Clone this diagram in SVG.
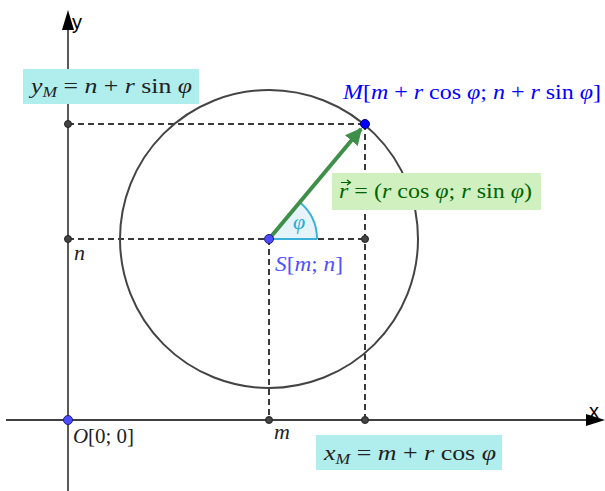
<svg xmlns="http://www.w3.org/2000/svg" width="605" height="491" viewBox="0 0 605 491">
<style>
.axis{stroke:#000;stroke-width:1.3;fill:none}
.dash{stroke:#3a3a3a;stroke-width:2;stroke-dasharray:6,4;fill:none}
.pt{fill:#444;stroke:#222;stroke-width:1}
.bpt{fill:#4d4dff;stroke:#1a1a80;stroke-width:1}
.m{font-family:"Liberation Serif","DejaVu Serif",serif;font-size:22px}
.i{font-style:italic}
.ax{font-family:"Liberation Sans",Arial,sans-serif;font-size:20px}
</style>
<defs>
<marker id="vec" viewBox="0 0 10 10" refX="9" refY="5" markerWidth="4.2" markerHeight="4.2" orient="auto" markerUnits="strokeWidth">
<path d="M0,0 L10,5 L0,10 z" fill="#3f8f4a"/>
</marker>
</defs>
<g id="axes">
<line class="axis" x1="68" y1="28" x2="68" y2="491"/>
<path d="M68,10 L62,30 L74,30 z" fill="#000"/>
<line class="axis" x1="6" y1="420" x2="588" y2="420"/>
<path d="M605,420 L586,414 L586,426 z" fill="#000"/>
<text class="ax" x="72" y="29">y</text>
<text class="ax" x="589" y="418">x</text>
</g>
<g id="connectors">
<line class="dash" x1="68" y1="124" x2="365" y2="124"/>
<line class="dash" x1="68" y1="239" x2="365" y2="239"/>
<line class="dash" x1="269" y1="239" x2="269" y2="420"/>
<line class="dash" x1="365" y1="124" x2="365" y2="420"/>
</g>
<g id="circle">
<circle cx="269" cy="239" r="149" fill="none" stroke="#444" stroke-width="2"/>
</g>
<g id="angle">
<path d="M269,239 L317,239 A48,48 0 0 0 299.8,202.2 z" fill="#e4f4fa" stroke="none"/>
<path d="M317,239 A48,48 0 0 0 299.8,202.2" fill="none" stroke="#3bb0d8" stroke-width="2"/>
<line x1="269" y1="239" x2="317" y2="239" stroke="#3bb0d8" stroke-width="2"/>
<text class="m i" x="293" y="229" fill="#2aa8d8" font-size="19">φ</text>
</g>
<g id="vector">
<line x1="269" y1="239" x2="361" y2="129" stroke="#3f8f4a" stroke-width="4" marker-end="url(#vec)"/>
</g>
<g id="points">
<circle class="pt" cx="68" cy="124" r="3.5"/>
<circle class="pt" cx="68" cy="239" r="3.5"/>
<circle class="pt" cx="365" cy="239" r="3.5"/>
<circle class="pt" cx="269" cy="420" r="3.5"/>
<circle class="pt" cx="365" cy="420" r="3.5"/>
<circle class="bpt" cx="68" cy="420" r="4.5"/>
<circle class="bpt" cx="269" cy="239" r="4.5"/>
<circle cx="365" cy="124" r="4.5" fill="#0000ff" stroke="#000080" stroke-width="1"/>
</g>
<g id="label-yM">
<rect x="23" y="69" width="176" height="35" fill="#b0eeee"/>
<text class="m" x="31" y="93" fill="#222" textLength="161" lengthAdjust="spacingAndGlyphs"><tspan class="i">y</tspan><tspan class="i" font-size="15" dy="4">M</tspan><tspan dy="-4"> = </tspan><tspan class="i">n</tspan> + <tspan class="i">r</tspan> sin <tspan class="i">φ</tspan></text>
</g>
<g id="label-M">
<text class="m" x="343" y="99" fill="#0000ff" textLength="258" lengthAdjust="spacingAndGlyphs"><tspan class="i">M</tspan>[<tspan class="i">m</tspan> + <tspan class="i">r</tspan> cos <tspan class="i">φ</tspan>; <tspan class="i">n</tspan> + <tspan class="i">r</tspan> sin <tspan class="i">φ</tspan>]</text>
</g>
<g id="label-r">
<rect x="332" y="173" width="209" height="37" fill="#d0f0c0"/>
<text class="m" x="339" y="198" fill="#006400" textLength="193" lengthAdjust="spacingAndGlyphs"><tspan class="i">r</tspan> = (<tspan class="i">r</tspan> cos <tspan class="i">φ</tspan>; <tspan class="i">r</tspan> sin <tspan class="i">φ</tspan>)</text>
<path d="M341,182.5 L350,182.5 M347,180 L350.5,182.5 L347,185" fill="none" stroke="#006400" stroke-width="1.2"/>
</g>
<g id="label-S">
<text class="m" x="275" y="271" fill="#5050ff" textLength="68" lengthAdjust="spacingAndGlyphs"><tspan class="i">S</tspan>[<tspan class="i">m</tspan>; <tspan class="i">n</tspan>]</text>
</g>
<g id="label-n">
<text class="m i" x="74" y="260" fill="#222" font-size="20">n</text>
</g>
<g id="label-m">
<text class="m i" x="274" y="439" fill="#222" font-size="20">m</text>
</g>
<g id="label-O">
<text class="m" x="73" y="443" fill="#222" textLength="61" lengthAdjust="spacingAndGlyphs"><tspan class="i">O</tspan>[0; 0]</text>
</g>
<g id="label-xM">
<rect x="316" y="435" width="186" height="35" fill="#b0eeee"/>
<text class="m" x="324" y="460" fill="#222" textLength="172" lengthAdjust="spacingAndGlyphs"><tspan class="i">x</tspan><tspan class="i" font-size="15" dy="4">M</tspan><tspan dy="-4"> = </tspan><tspan class="i">m</tspan> + <tspan class="i">r</tspan> cos <tspan class="i">φ</tspan></text>
</g>
</svg>
